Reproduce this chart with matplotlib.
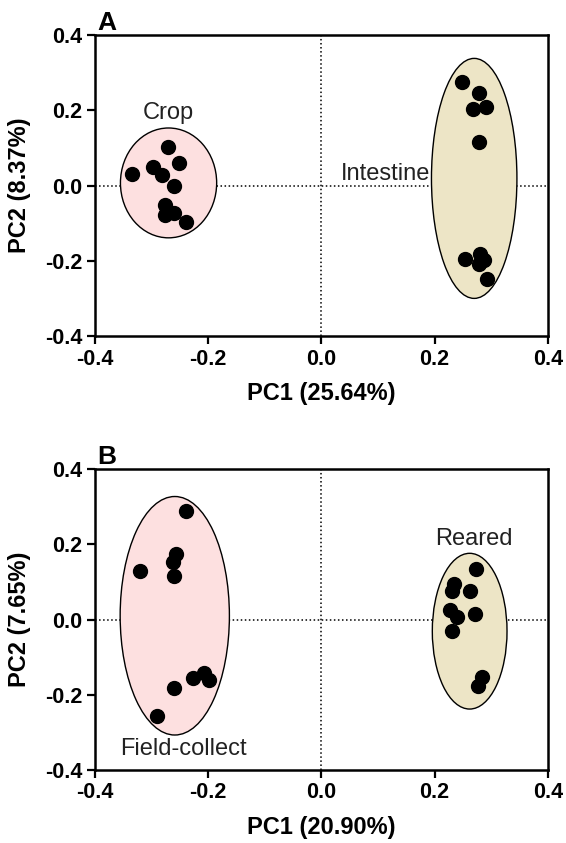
import matplotlib
matplotlib.use("Agg")
import matplotlib.pyplot as plt
from matplotlib.patches import Ellipse

plt.rcParams['font.family'] = ['Liberation Sans', 'DejaVu Sans']

# Panel A: crop vs intestine
crop_x = [-0.271, -0.251, -0.335, -0.298, -0.282, -0.261, -0.276, -0.276, -0.261, -0.239]
crop_y = [0.103, 0.061, 0.032, 0.050, 0.028, -0.001, -0.052, -0.078, -0.074, -0.096]
intestine_x = [0.248, 0.279, 0.268, 0.290, 0.278, 0.253, 0.280, 0.287, 0.278, 0.292]
intestine_y = [0.276, 0.247, 0.203, 0.209, 0.116, -0.196, -0.182, -0.198, -0.208, -0.249]

# Panel B: field-collected vs reared
field_x = [-0.240, -0.256, -0.262, -0.260, -0.321, -0.226, -0.207, -0.199, -0.260, -0.291]
field_y = [0.288, 0.174, 0.154, 0.116, 0.129, -0.156, -0.143, -0.162, -0.183, -0.256]
reared_x = [0.273, 0.234, 0.230, 0.262, 0.227, 0.240, 0.271, 0.230, 0.283, 0.277]
reared_y = [0.133, 0.094, 0.077, 0.077, 0.025, 0.006, 0.015, -0.030, -0.152, -0.176]

# ellipses: (cx, cy, width, height)
ell_a = [(-0.270, 0.007, 0.170, 0.292, '#fde0e0'), (0.270, 0.019, 0.151, 0.638, '#ede5c6')]
ell_b = [(-0.259, 0.010, 0.193, 0.634, '#fde0e0'), (0.262, -0.031, 0.132, 0.414, '#ede5c6')]

ticks = [-0.4, -0.2, 0.0, 0.2, 0.4]


def panel(ax, groups, ellipses, xlab, ylab, letter, notes):
    for cx, cy, w, h, c in ellipses:
        ax.add_patch(Ellipse((cx, cy), w, h, facecolor=c, edgecolor='black', lw=1.0, zorder=1))
    ax.axhline(0, color='black', ls=':', lw=1.1, zorder=0.5)
    ax.axvline(0, color='black', ls=':', lw=1.1, zorder=0.5)
    for gx, gy in groups:
        ax.plot(gx, gy, 'o', color='black', ms=10, zorder=3)
    ax.set_xlim(-0.4, 0.4)
    ax.set_ylim(-0.4, 0.4)
    ax.set_xticks(ticks)
    ax.set_yticks(ticks)
    ax.set_xticklabels(['%.1f' % t for t in ticks], fontsize=15.5, fontweight='bold')
    ax.set_yticklabels(['%.1f' % t for t in ticks], fontsize=15.5, fontweight='bold')
    ax.tick_params(direction='out', length=6, width=1.6, pad=3)
    for s in ax.spines.values():
        s.set_linewidth(1.8)
    ax.set_xlabel(xlab, fontsize=17, fontweight='bold', labelpad=9)
    ax.set_ylabel(ylab, fontsize=17, fontweight='bold', labelpad=10)
    ax.text(0.005, 1.0, letter, transform=ax.transAxes, fontsize=19, fontweight='bold',
            ha='left', va='bottom')
    for x, y, s, ha in notes:
        ax.text(x, y, s, fontsize=17, color='#222222', ha=ha, va='center')


fig = plt.figure(figsize=(5.66, 8.43), dpi=100)
ax1 = fig.add_axes([0.1678, 0.6014, 0.800, 0.357])
ax2 = fig.add_axes([0.1678, 0.0866, 0.800, 0.357])

panel(ax1, [(crop_x, crop_y), (intestine_x, intestine_y)], ell_a,
      'PC1 (25.64%)', 'PC2 (8.37%)', 'A',
      [(-0.270, 0.192, 'Crop', 'center'), (0.192, 0.030, 'Intestine', 'right')])
panel(ax2, [(field_x, field_y), (reared_x, reared_y)], ell_b,
      'PC1 (20.90%)', 'PC2 (7.65%)', 'B',
      [(-0.243, -0.343, 'Field-collect', 'center'), (0.270, 0.214, 'Reared', 'center')])

fig.savefig('out.png', dpi=100)
